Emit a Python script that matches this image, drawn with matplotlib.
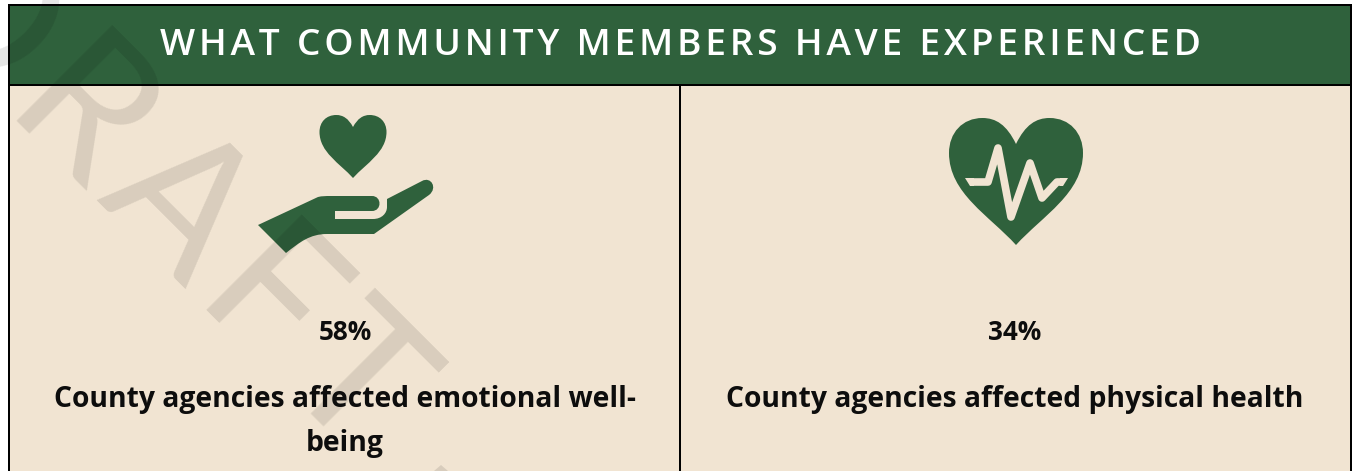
import matplotlib
matplotlib.use("Agg")
import matplotlib.pyplot as plt
from matplotlib.patches import PathPatch, Polygon, Rectangle
from matplotlib.path import Path

W, H = 1353, 471

GREEN = "#2f613c"
CREAM = "#f1e4d2"
INK = "#0d0d0d"

TITLE = "WHAT COMMUNITY MEMBERS HAVE EXPERIENCED"
VALUES = ["58%", "34%"]
LABEL_LINES = [["County agencies affected emotional well-", "being"],
               ["County agencies affected physical health"]]
CENTERS = [345, 1015]

HAIR = "\u200a"


def heart(cx, top, notch, w, bottom, lobe_y):
    # heart outline in pixel coordinates
    m, c, z = Path.MOVETO, Path.CURVE4, Path.CLOSEPOLY
    verts = [
        (cx, notch),
        (cx - 0.07 * w, top + 0.05 * w), (cx - 0.15 * w, top), (cx - 0.25 * w, top),
        (cx - 0.4 * w, top), (cx - 0.5 * w, lobe_y - 0.15 * w), (cx - 0.5 * w, lobe_y),
        (cx - 0.5 * w, lobe_y + 0.3 * w), (cx - 0.2 * w, bottom - 0.22 * w), (cx, bottom),
        (cx + 0.2 * w, bottom - 0.22 * w), (cx + 0.5 * w, lobe_y + 0.3 * w), (cx + 0.5 * w, lobe_y),
        (cx + 0.5 * w, lobe_y - 0.15 * w), (cx + 0.4 * w, top), (cx + 0.25 * w, top),
        (cx + 0.15 * w, top), (cx + 0.07 * w, top + 0.05 * w), (cx, notch),
        (cx, notch),
    ]
    codes = [m] + [c] * 18 + [z]
    return Path(verts, codes)


def hand_path():
    m, c, l, z = Path.MOVETO, Path.CURVE4, Path.LINETO, Path.CLOSEPOLY
    steps = [
        (m, (258, 225)), (l, (318, 197)), (c, (322, 196)), (c, (326, 196)), (c, (330, 196)),
        (l, (372, 196)),
        (c, (382, 196)), (c, (382, 211)), (c, (372, 211)),
        (l, (335, 211)), (l, (335, 219)), (l, (373, 219)),
        (c, (382, 219)), (c, (387, 213)), (c, (387, 207)),
        (l, (387, 199)), (l, (422, 181)),
        (c, (431, 176)), (c, (438, 188)), (c, (429, 195)),
        (l, (374, 234)), (l, (327, 234)),
        (c, (310, 234)), (c, (300, 242)), (c, (286, 253)),
        (z, (258, 225)),
    ]
    return Path([s[1] for s in steps], [s[0] for s in steps])


fig = plt.figure(figsize=(W / 100, H / 100), dpi=100)
ax = fig.add_axes([0, 0, 1, 1])
ax.set_xlim(0, W)
ax.set_ylim(H, 0)
ax.axis("off")

# panels
ax.add_patch(Rectangle((9, 5), 1342, H, fc=CREAM, ec="none", zorder=1))
ax.add_patch(Rectangle((9, 5), 1342, 80, fc=GREEN, ec="none", zorder=1))
for xs, ys in [([9, 9], [4, H]), ([1351, 1351], [4, H]), ([8, 1352], [5, 5]),
               ([8, 1352], [85, 85]), ([680, 680], [85, H])]:
    ax.plot(xs, ys, color="black", lw=1.44, solid_capstyle="butt", zorder=2)

# text
ax.text(680, 46, HAIR.join(TITLE), color="white", fontsize=26.7, fontweight="semibold",
        family=["Open Sans", "DejaVu Sans"], ha="center", va="center", zorder=5)
for cx, val, lines in zip(CENTERS, VALUES, LABEL_LINES):
    ax.text(cx, 332, val, color=INK, fontsize=18.8, fontweight="bold",
            family="Open Sans", ha="center", va="center", zorder=5)
    for i, line in enumerate(lines):
        ax.text(cx, 400 + i * 44, line, color=INK, fontsize=20.3, fontweight="bold",
                family="Open Sans", ha="center", va="center", zorder=5)

# hand icon
ax.add_patch(PathPatch(heart(353, 115, 127, 67, 178, 132), fc=GREEN, ec="none", zorder=3))
ax.add_patch(PathPatch(hand_path(), fc=GREEN, ec="none", zorder=3))

# heartbeat icon
ax.add_patch(PathPatch(heart(1016, 118, 144, 134, 245, 153), fc=GREEN, ec="none", zorder=3))
ax.plot([972, 988, 998, 1011, 1030, 1042, 1057, 1062],
        [182, 182, 148, 217, 163, 198, 182, 182],
        color=CREAM, lw=5.5, solid_capstyle="butt", solid_joinstyle="round", zorder=4)
ax.add_patch(Polygon([(965, 178), (974, 178), (974, 186), (970, 186)], fc=CREAM, ec="none", zorder=4))
ax.add_patch(Polygon([(1060, 178), (1068, 178), (1063, 186), (1060, 186)], fc=CREAM, ec="none", zorder=4))

# watermark, plus the tip of a second one at the bottom edge
ax.text(163, 191, HAIR.join("DRAFT"), color="black", alpha=0.1, fontsize=135,
        family=["Lato", "DejaVu Sans"], rotation=-45, rotation_mode="anchor",
        ha="center", va="center", zorder=4.5)
ax.add_patch(Polygon([(441, 465), (434, 471), (448, 471)], fc="black", alpha=0.1, ec="none", zorder=4.5))

fig.savefig("out.png", dpi=100)
